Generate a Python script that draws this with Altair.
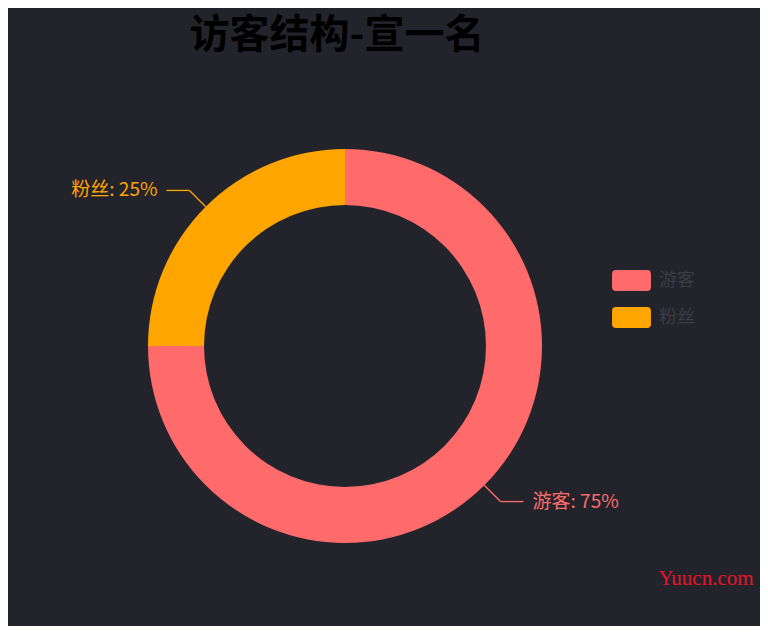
import altair as alt
import pandas as pd

# ---- data ----
categories = ["游客", "粉丝"]
values = [75, 25]
colors = ["#ff6b6b", "#ffa500"]
title_text = ["访客结构-宣一名"]
watermark_text = ["Yuucn.com"]

# ---- layout / style ----
BG = "#23242b"
CX, CY = 337, 338          # donut centre inside the view
R_OUT, R_IN = 197, 141
R_ELBOW = 220
SEG = 23
GAP = 9
FONT = "Noto Sans CJK SC"

df = pd.DataFrame({"category": categories, "value": values,
                   "idx": list(range(len(categories)))})

color_scale = alt.Scale(domain=categories, range=colors)

legend_symbol = ("M-1.41,-0.95 L1.41,-0.95 Q1.77,-0.95 1.77,-0.59 L1.77,0.59 "
                 "Q1.77,0.95 1.41,0.95 L-1.41,0.95 Q-1.77,0.95 -1.77,0.59 "
                 "L-1.77,-0.59 Q-1.77,-0.95 -1.41,-0.95 Z")

legend = alt.Legend(
    title=None, orient="none", legendX=612.5, legendY=261.5, padding=0,
    symbolType=legend_symbol, symbolSize=484, symbolStrokeWidth=0,
    symbolOpacity=1, labelOffset=16.5, rowPadding=15,
    labelColor="#3b3c44", labelFont=FONT, labelFontSize=18,
)

base = alt.Chart(df)

arc = base.mark_arc(innerRadius=R_IN, outerRadius=R_OUT).encode(
    theta=alt.Theta("value:Q", stack=True),
    order=alt.Order("idx:Q"),
    color=alt.Color("category:N", scale=color_scale, sort=categories, legend=legend),
    x=alt.value(CX), y=alt.value(CY),
)

geo = base.transform_joinaggregate(total="sum(value)").transform_window(
    cum="sum(value)", sort=[alt.SortField("idx", order="ascending")]
).transform_calculate(
    mid="(datum.cum - datum.value/2) / datum.total * 2 * PI",
).transform_calculate(
    side="sin(datum.mid) >= 0 ? 1 : -1",
    x0=f"{CX} + {R_OUT} * sin(datum.mid)",
    y0=f"{CY} - {R_OUT} * cos(datum.mid)",
    x1=f"{CX} + {R_ELBOW} * sin(datum.mid)",
    y1=f"{CY} - {R_ELBOW} * cos(datum.mid)",
    label="datum.category + ': ' + round(datum.value / datum.total * 100) + '%'",
).transform_calculate(
    x2=f"datum.x1 + datum.side * {SEG}",
    tx=f"datum.x1 + datum.side * {SEG + GAP}",
)

lcolor = alt.Color("category:N", scale=color_scale, legend=None)

rule1 = geo.mark_rule(strokeWidth=1.3).encode(
    x=alt.X("x0:Q", scale=None, axis=None), y=alt.Y("y0:Q", scale=None, axis=None),
    x2="x1:Q", y2="y1:Q", color=lcolor,
)
rule2 = geo.mark_rule(strokeWidth=1.3).encode(
    x=alt.X("x1:Q", scale=None, axis=None), y=alt.Y("y1:Q", scale=None, axis=None),
    x2="x2:Q", y2="y1:Q", color=lcolor,
)
label_r = geo.transform_filter("datum.side > 0").mark_text(
    align="left", baseline="middle", font=FONT, fontSize=19
).encode(
    x=alt.X("tx:Q", scale=None, axis=None), y=alt.Y("y1:Q", scale=None, axis=None),
    text="label:N", color=lcolor,
)
label_l = geo.transform_filter("datum.side < 0").mark_text(
    align="right", baseline="middle", font=FONT, fontSize=19
).encode(
    x=alt.X("tx:Q", scale=None, axis=None), y=alt.Y("y1:Q", scale=None, axis=None),
    text="label:N", color=lcolor,
)

title = alt.Chart(pd.DataFrame({"t": title_text})).mark_text(
    align="center", baseline="middle", font=FONT, fontSize=40,
    fontWeight="bold", color="#000000"
).encode(text="t:N", x=alt.value(329), y=alt.value(28))

watermark = alt.Chart(pd.DataFrame({"t": watermark_text})).mark_text(
    align="center", baseline="middle", font="Liberation Serif", fontSize=21,
    color="#e8132a"
).encode(text="t:N", x=alt.value(698), y=alt.value(571))

chart = alt.layer(arc, rule1, rule2, label_r, label_l, title, watermark).properties(
    width=752, height=618, background=BG, padding=0,
    autosize=alt.AutoSizeParams(type="none"),
).configure_view(stroke="transparent")

chart.save("out.html", embed_options={"renderer": "svg", "actions": False})
